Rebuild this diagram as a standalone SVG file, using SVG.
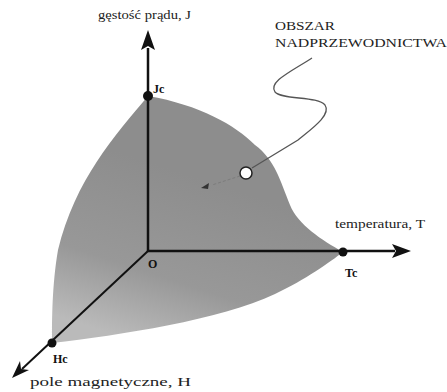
<svg xmlns="http://www.w3.org/2000/svg" width="447" height="392" viewBox="0 0 447 392">
<defs>
<style>
.lbl{font-family:"Liberation Serif","DejaVu Serif","Times New Roman",serif;font-size:13px;fill:#222}
.b{font-family:"Liberation Serif","DejaVu Serif","Times New Roman",serif;font-size:12px;font-weight:bold;fill:#111}
.axis{stroke:#111;fill:none}
.dot{fill:#111}
</style>
<linearGradient id="surf" x1="0.55" y1="0.35" x2="0.3" y2="1">
<stop offset="0" stop-color="#8d8d8d"/>
<stop offset="0.6" stop-color="#989898"/>
<stop offset="1" stop-color="#bababa"/>
</linearGradient>
</defs>
<rect width="447" height="392" fill="#fff"/>
<g id="surface">
<path d="M148,96 C200,105 235,125 255,145 C275,160 280,180 290,205 C298,225 322,240 343,252 C330,262 305,280 275,294 C220,320 120,335 52,343 C52,320 52,285 58,250 C75,180 115,135 148,96 Z" fill="url(#surf)"/>
</g>
<g id="connectors">
<line class="axis" x1="148" y1="252" x2="148" y2="48" stroke-width="2.5"/>
<path d="M148,30 L155,50 L148,46 L141,50 Z" fill="#111"/>
<line class="axis" x1="148" y1="251" x2="395" y2="251" stroke-width="2.5"/>
<path d="M411,251 L392,258 L396,251 L392,244 Z" fill="#111"/>
<line class="axis" x1="148" y1="251" x2="22" y2="369" stroke-width="2"/>
<path d="M12,378 L20,361 L21,369 L29,370 Z" fill="#111"/>
<path d="M312,58 C290,72 268,82 275,92 C282,100 318,96 325,105 C332,115 310,130 298,140 L252,168" fill="none" stroke="#555" stroke-width="1.3"/>
<path d="M240,176 L212,185" fill="none" stroke="#7c7c7c" stroke-width="1" stroke-dasharray="3,2"/>
<path d="M201,188 L209,183 L208,189 Z" fill="#333"/>
</g>
<g id="node-Jc">
<circle class="dot" cx="148" cy="96" r="5"/>
<text class="b" x="153" y="93">Jc</text>
</g>
<g id="node-Tc">
<circle class="dot" cx="343" cy="252" r="4.5"/>
<text class="b" x="345" y="277">Tc</text>
</g>
<g id="node-Hc">
<circle class="dot" cx="52" cy="343" r="4.5"/>
<text class="b" x="53" y="363">Hc</text>
</g>
<g id="node-O">
<text class="b" x="148" y="268" font-size="11">O</text>
</g>
<g id="node-region">
<circle cx="246" cy="173" r="6" fill="#fff" stroke="#222" stroke-width="1.5"/>
</g>
<g id="labels">
<text class="lbl" x="98" y="19" textLength="93" lengthAdjust="spacingAndGlyphs">gęstość prądu, J</text>
<text class="lbl" x="335" y="228" textLength="90" lengthAdjust="spacingAndGlyphs">temperatura, T</text>
<text class="lbl" x="30" y="386" textLength="161" lengthAdjust="spacingAndGlyphs">pole magnetyczne, H</text>
<text class="lbl" x="275" y="30" textLength="60" lengthAdjust="spacingAndGlyphs">OBSZAR</text>
<text class="lbl" x="275" y="47" textLength="172" lengthAdjust="spacingAndGlyphs">NADPRZEWODNICTWA</text>
</g>
</svg>
